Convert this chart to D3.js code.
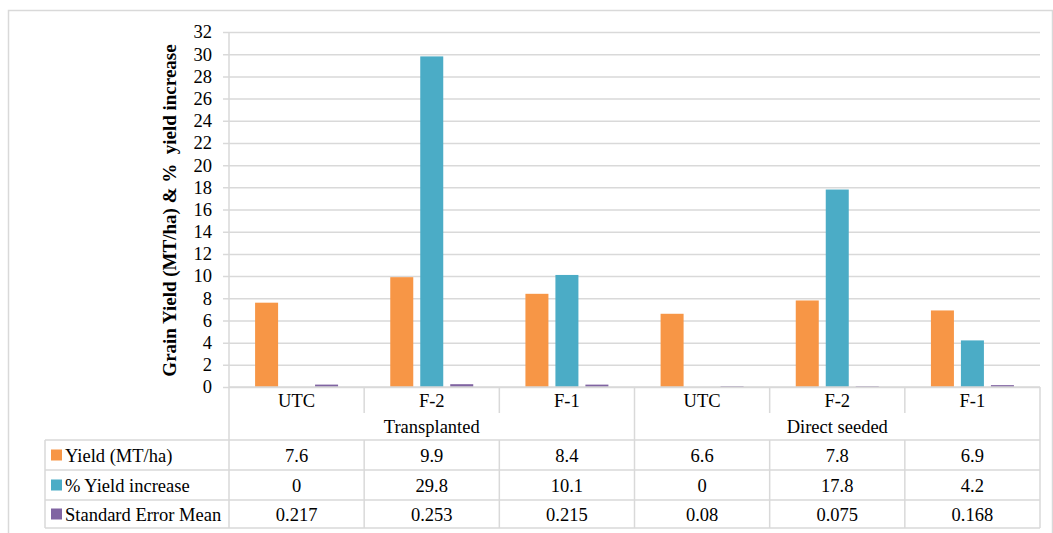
<!DOCTYPE html>
<html>
<head>
<meta charset="utf-8">
<script src="https://cdn.jsdelivr.net/npm/d3@7"></script>
<style>
  html, body { margin: 0; padding: 0; background: #fff; }
  svg text { font-family: "Times New Roman", "Liberation Serif", "DejaVu Serif", serif !important; fill: #000; }
</style>
</head>
<body>
<svg id="chart" width="1053" height="533"></svg>
<script>
// Treatments and methods
const groups = ["Transplanted", "Direct seeded"];
const treatments = ["UTC", "F-2", "F-1"];
const seriesNames = ["Yield (MT/ha)", "% Yield increase", "Standard Error Mean"];
const seriesColors = ["#F79646", "#4BACC6", "#8064A2"];

// Values per category (Transplanted UTC, F-2, F-1, Direct seeded UTC, F-2, F-1)
const yieldValues = [7.6, 9.9, 8.4, 6.6, 7.8, 6.9];
const increaseValues = [0, 29.8, 10.1, 0, 17.8, 4.2];
const semValues = [0.217, 0.253, 0.215, 0.08, 0.075, 0.168];
const semLabels = ["0.217", "0.253", "0.215", "0.08", "0.075", "0.168"];

const yTicks = d3.range(0, 33, 2);

const FONT = "'Times New Roman', 'Liberation Serif', 'DejaVu Serif', serif";
const FS = 18.5;
const svg = d3.select("#chart").attr("font-family", FONT);
const gridColor = "#d9d9d9";

const plot = { left: 229, right: 1040, top: 32, bottom: 387 };
const table = { left: 45, catRow: 413, rows: [440, 470, 500, 528] };

// outer frame
svg.append("rect")
  .attr("x", 8.5).attr("y", 10.5).attr("width", 1044).attr("height", 540)
  .attr("fill", "none").attr("stroke", gridColor).attr("stroke-width", 1.5);

const categories = [];
groups.forEach(g => treatments.forEach(t => categories.push(g + "|" + t)));

const x0 = d3.scaleBand().domain(categories).range([plot.left, plot.right]).padding(0);
const x1 = d3.scaleBand().domain(seriesNames).range([0, x0.bandwidth()])
  .paddingInner(0.233).paddingOuter(0.87);
const y = d3.scaleLinear().domain([0, 32]).range([plot.bottom, plot.top]);

// gridlines + ticks
const yAxis = d3.axisLeft(y).tickValues(yTicks).tickSize(-(plot.right - plot.left)).tickPadding(12);
const ga = svg.append("g").attr("transform", `translate(${plot.left},0)`).call(yAxis);
ga.attr("font-family", FONT);
ga.select(".domain").remove();
ga.selectAll(".tick line").attr("stroke", gridColor).attr("stroke-width", 1.5).attr("x1", -6);
ga.selectAll(".tick text")
  .attr("font-family", FONT).attr("font-size", FS).attr("fill", "#000").attr("x", -17);

// vertical axis line
svg.append("line")
  .attr("x1", plot.left).attr("x2", plot.left).attr("y1", plot.top).attr("y2", table.rows[3])
  .attr("stroke", gridColor).attr("stroke-width", 1.5);

// bars
const seriesData = [yieldValues, increaseValues, semValues];
seriesData.forEach((vals, si) => {
  svg.append("g").selectAll("rect").data(vals).join("rect")
    .attr("x", (d, i) => x0(categories[i]) + x1(seriesNames[si]))
    .attr("width", x1.bandwidth())
    .attr("y", d => y(d))
    .attr("height", d => y(0) - y(d))
    .attr("fill", seriesColors[si]);
});

// horizontal axis line
svg.append("line")
  .attr("x1", plot.left).attr("x2", plot.right).attr("y1", plot.bottom).attr("y2", plot.bottom)
  .attr("stroke", gridColor).attr("stroke-width", 1.5);

// category row separators
categories.forEach((c, i) => {
  if (i === 0) return;
  const xx = x0(c);
  const full = i === 3;
  svg.append("line")
    .attr("x1", xx).attr("x2", xx).attr("y1", plot.bottom)
    .attr("y2", full ? table.rows[3] : table.catRow)
    .attr("stroke", gridColor).attr("stroke-width", 1.5);
  if (!full) {
    svg.append("line")
      .attr("x1", xx).attr("x2", xx).attr("y1", table.rows[0]).attr("y2", table.rows[3])
      .attr("stroke", gridColor).attr("stroke-width", 1.5);
  }
});
svg.append("line")
  .attr("x1", plot.right).attr("x2", plot.right).attr("y1", plot.bottom).attr("y2", table.rows[3])
  .attr("stroke", gridColor).attr("stroke-width", 1.5);
svg.append("line")
  .attr("x1", table.left).attr("x2", table.left).attr("y1", table.rows[0]).attr("y2", table.rows[3])
  .attr("stroke", gridColor).attr("stroke-width", 1.5);
table.rows.forEach(ry => {
  svg.append("line")
    .attr("x1", table.left).attr("x2", plot.right).attr("y1", ry).attr("y2", ry)
    .attr("stroke", gridColor).attr("stroke-width", 1.5);
});

// category labels
svg.append("g").selectAll("text").data(categories).join("text")
  .attr("x", c => x0(c) + x0.bandwidth() / 2)
  .attr("y", 407)
  .attr("text-anchor", "middle").attr("font-size", FS)
  .text(c => c.split("|")[1]);

// group labels
groups.forEach((g, gi) => {
  const first = x0(g + "|" + treatments[0]);
  const last = x0(g + "|" + treatments[treatments.length - 1]) + x0.bandwidth();
  svg.append("text")
    .attr("x", (first + last) / 2).attr("y", 433)
    .attr("text-anchor", "middle").attr("font-size", FS)
    .text(g);
});

// data table rows
const rowLabels = [
  yieldValues.map(String),
  increaseValues.map(String),
  semLabels
];
seriesNames.forEach((name, si) => {
  const top = table.rows[si], bot = table.rows[si + 1];
  const cy = (top + bot) / 2;
  svg.append("rect")
    .attr("x", 51).attr("y", cy - 5.5).attr("width", 11).attr("height", 11)
    .attr("fill", seriesColors[si]);
  svg.append("text")
    .attr("x", 65).attr("y", cy + 6.5)
    .attr("font-size", FS).text(name);
  rowLabels[si].forEach((lbl, i) => {
    svg.append("text")
      .attr("x", x0(categories[i]) + x0.bandwidth() / 2).attr("y", cy + 6.5)
      .attr("text-anchor", "middle").attr("font-size", FS)
      .text(lbl);
  });
});

// y axis title
svg.append("text")
  .attr("transform", `translate(176,${(plot.top + plot.bottom) / 2 + 1}) rotate(-90)`)
  .attr("text-anchor", "middle").attr("font-weight", "bold").attr("font-size", 19)
  .attr("xml:space", "preserve")
  .style("white-space", "pre")
  .text("Grain Yield (MT/ha) & %  yield increase");
</script>
</body>
</html>
